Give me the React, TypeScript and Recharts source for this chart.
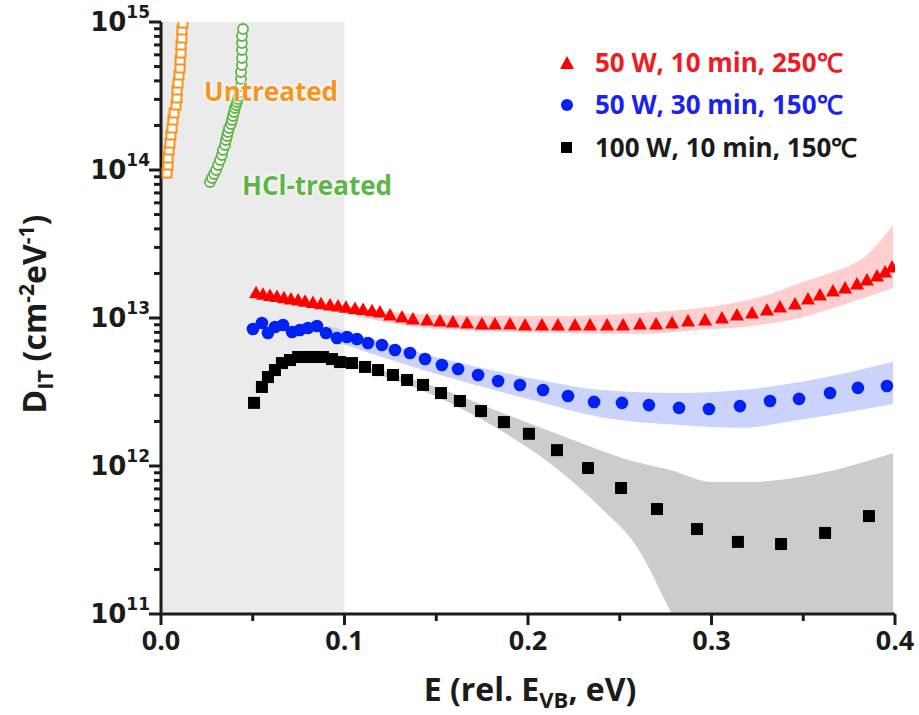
import React from 'react';
import { ComposedChart, Area, Scatter, XAxis, YAxis, ReferenceArea } from 'recharts';

// 50 W, 10 min, 250 C (red triangles)
const redE = [0.0518, 0.0556, 0.0594, 0.0632, 0.067, 0.0708, 0.0747, 0.0785, 0.0828, 0.0872, 0.0921, 0.0965, 0.1008, 0.1057, 0.1101, 0.115, 0.1193, 0.1248, 0.1313, 0.1373, 0.145, 0.152, 0.1591, 0.1668, 0.1749, 0.182, 0.1902, 0.1984, 0.2076, 0.2163, 0.2256, 0.2338, 0.2431, 0.2518, 0.261, 0.2698, 0.2785, 0.2872, 0.2965, 0.3057, 0.3139, 0.3221, 0.3302, 0.3373, 0.3455, 0.3526, 0.3591, 0.3662, 0.3728, 0.3793, 0.3847, 0.3902, 0.3946, 0.3984];
const redD = [1.48e13, 1.448e13, 1.421e13, 1.395e13, 1.369e13, 1.344e13, 1.321e13, 1.296e13, 1.273e13, 1.249e13, 1.226e13, 1.205e13, 1.183e13, 1.161e13, 1.14e13, 1.118e13, 1.098e13, 1.048e13, 1.016e13, 9.84e12, 9.69e12, 9.54e12, 9.4e12, 9.25e12, 9.11e12, 9.11e12, 9.11e12, 8.97e12, 8.97e12, 8.97e12, 8.97e12, 8.97e12, 8.97e12, 8.97e12, 9.11e12, 9.11e12, 9.25e12, 9.54e12, 9.69e12, 1.0e13, 1.048e13, 1.081e13, 1.133e13, 1.187e13, 1.243e13, 1.344e13, 1.43e13, 1.522e13, 1.595e13, 1.697e13, 1.806e13, 1.922e13, 2.046e13, 2.211e13];
const redBandE = [0.0757, 0.152, 0.2174, 0.261, 0.2937, 0.3117, 0.3302, 0.3482, 0.3662, 0.3847, 0.3989];
const redBandLo = [1.263e13, 8.43e12, 7.92e12, 7.8e12, 8.3e12, 8.56e12, 9.11e12, 1.0e13, 1.168e13, 1.387e13, 1.595e13];
const redBandHi = [1.387e13, 1.048e13, 1.032e13, 1.081e13, 1.168e13, 1.263e13, 1.43e13, 1.724e13, 2.046e13, 2.666e13, 4.25e13];

// 50 W, 30 min, 150 C (blue circles)
const blueE = [0.0501, 0.055, 0.0583, 0.0621, 0.0665, 0.0714, 0.0757, 0.0801, 0.085, 0.0899, 0.0959, 0.1014, 0.1068, 0.1128, 0.1204, 0.1275, 0.1357, 0.1439, 0.1531, 0.1619, 0.1728, 0.1837, 0.1956, 0.2082, 0.2218, 0.236, 0.2512, 0.2659, 0.2823, 0.2986, 0.3155, 0.3319, 0.3477, 0.3646, 0.3798, 0.3956];
const blueD = [8.43e12, 9.25e12, 7.92e12, 8.69e12, 8.97e12, 8.04e12, 8.3e12, 8.56e12, 8.83e12, 7.92e12, 7.33e12, 7.44e12, 7.21e12, 6.78e12, 6.57e12, 6.08e12, 5.8e12, 5.28e12, 4.81e12, 4.52e12, 4.12e12, 3.75e12, 3.53e12, 3.26e12, 2.97e12, 2.71e12, 2.67e12, 2.58e12, 2.47e12, 2.43e12, 2.54e12, 2.75e12, 2.84e12, 3.11e12, 3.37e12, 3.47e12];
const blueBandE = [0.0921, 0.152, 0.2065, 0.2392, 0.2828, 0.3155, 0.3482, 0.3989];
const blueBandLo = [7.1e12, 4.12e12, 2.71e12, 2.14e12, 1.89e12, 1.81e12, 2.05e12, 2.62e12];
const blueBandHi = [8.83e12, 5.37e12, 3.81e12, 3.26e12, 3.11e12, 3.26e12, 3.69e12, 5.04e12];

// 100 W, 10 min, 150 C (black squares)
const blackE = [0.0507, 0.055, 0.0583, 0.0621, 0.0659, 0.0703, 0.0747, 0.0796, 0.0839, 0.0883, 0.0932, 0.0975, 0.1041, 0.1112, 0.1183, 0.1264, 0.1341, 0.1428, 0.1526, 0.1629, 0.1744, 0.1869, 0.2005, 0.2158, 0.2327, 0.2507, 0.2703, 0.2921, 0.3144, 0.3379, 0.3619, 0.3858];
const blackD = [2.67e12, 3.42e12, 3.99e12, 4.45e12, 4.96e12, 5.2e12, 5.45e12, 5.45e12, 5.45e12, 5.45e12, 5.28e12, 5.04e12, 4.96e12, 4.67e12, 4.45e12, 4.12e12, 3.81e12, 3.53e12, 3.11e12, 2.75e12, 2.35e12, 1.98e12, 1.65e12, 1.28e12, 9.69e11, 7.1e11, 5.12e11, 3.75e11, 3.07e11, 2.97e11, 3.53e11, 4.59e11];
const blackBandE = [0.0921, 0.1482, 0.1847, 0.2213, 0.2392, 0.2594, 0.2774, 0.3008, 0.321, 0.3482, 0.3989];
const blackBandLo = [5.12e12, 3.02e12, 1.75e12, 8.43e11, 5.28e11, 2.84e11, 1.06e11, 2.97e10, 1e10, 1e10, 1e10];
const blackBandHi = [5.45e12, 3.47e12, 2.32e12, 1.55e12, 1.28e12, 1.06e12, 9.4e11, 7.8e11, 7.8e11, 8.43e11, 1.22e12];

// untreated (orange open squares)
const untreatedE = [0.0033, 0.0038, 0.0038, 0.0044, 0.0049, 0.0054, 0.006, 0.0065, 0.0071, 0.0082, 0.0087, 0.0087, 0.0093, 0.0098, 0.0104, 0.0104, 0.0109, 0.0109, 0.0114, 0.0114, 0.012];
const untreatedD = [9.54e13, 1.081e14, 1.205e14, 1.365e14, 1.522e14, 1.724e14, 1.922e14, 2.177e14, 2.428e14, 2.749e14, 3.066e14, 3.472e14, 3.871e14, 4.384e14, 4.888e14, 5.536e14, 6.173e14, 6.992e14, 7.796e14, 8.83e14, 9.84e14];

// HCl-treated (green open circles)
const hclE = [0.0267, 0.0278, 0.0289, 0.03, 0.0311, 0.0322, 0.0332, 0.0338, 0.0349, 0.0354, 0.036, 0.0365, 0.0371, 0.0381, 0.0387, 0.0392, 0.0398, 0.0403, 0.0409, 0.0414, 0.042, 0.0425, 0.0431, 0.0436, 0.0436, 0.0436, 0.0441, 0.0441, 0.0441, 0.0441, 0.0441, 0.0447];
const hclD = [8.3e13, 8.83e13, 9.4e13, 1.0e14, 1.081e14, 1.168e14, 1.263e14, 1.365e14, 1.475e14, 1.595e14, 1.697e14, 1.806e14, 1.922e14, 2.046e14, 2.177e14, 2.317e14, 2.466e14, 2.624e14, 2.749e14, 2.88e14, 3.018e14, 3.162e14, 3.365e14, 3.695e14, 4.12e14, 4.593e14, 5.123e14, 5.712e14, 6.47e14, 7.21e14, 8.04e14, 8.97e14];

const yMajor = [1e11, 1e12, 1e13, 1e14, 1e15];
const yMinorSteps = [2, 3, 4, 5, 6, 7, 8, 9];
const xTicks = [0, 0.05, 0.1, 0.15, 0.2, 0.25, 0.3, 0.35, 0.4];
const xMajor = [0, 0.1, 0.2, 0.3, 0.4];

const yTicks = [
  ...yMajor,
  ...yMajor.slice(0, 4).flatMap((d) => yMinorSteps.map((s) => d * s)),
].sort((a, b) => a - b);

const pts = (xs: number[], ys: number[]) => xs.map((e, i) => ({ e, d: ys[i] }));
const band = (xs: number[], lo: number[], hi: number[]) =>
  xs.map((e, i) => ({ e, range: [lo[i], hi[i]] }));

const INK = '#1b1b1b';
const SANS = '"Open Sans", "Liberation Sans", sans-serif';

const YTick = (props: any) => {
  const { x, y, payload } = props;
  const v = payload.value as number;
  const exp = Math.round(Math.log10(v));
  const major = Math.abs(v - Math.pow(10, exp)) < v * 1e-6;
  return (
    <g>
      <line x1={x} x2={x - (major ? 12 : 7)} y1={y} y2={y} stroke={INK} strokeWidth={3} />
      {major && (
        <text x={x - 11} y={y + 9} textAnchor="end" fill={INK} fontFamily='"DejaVu Sans", sans-serif' fontWeight={700} fontSize={26}>
          <tspan>10</tspan>
          <tspan dy={-13} fontSize={17}>{exp}</tspan>
        </text>
      )}
    </g>
  );
};

const XTick = (props: any) => {
  const { x, y, payload } = props;
  const v = payload.value as number;
  const major = xMajor.some((m) => Math.abs(m - v) < 1e-9);
  return (
    <g>
      <line x1={x} x2={x} y1={y} y2={y + (major ? 11 : 7)} stroke={INK} strokeWidth={3} />
      {major && (
        <text x={x} y={y + 36} textAnchor="middle" fill={INK} fontFamily={SANS} fontWeight={700} fontSize={27}>
          {v.toFixed(1)}
        </text>
      )}
    </g>
  );
};

const Triangle = (p: any) => (
  <polygon points={`${p.cx},${p.cy - 7} ${p.cx + 7},${p.cy + 5.5} ${p.cx - 7},${p.cy + 5.5}`} fill="#ff0000" />
);
const Dot = (p: any) => <circle cx={p.cx} cy={p.cy} r={6.3} fill="#0022f5" />;
const Square = (p: any) => <rect x={p.cx - 6} y={p.cy - 6} width={12} height={12} fill="#000" />;
const OpenSquare = (p: any) => (
  <rect x={p.cx - 4.5} y={p.cy - 4.5} width={9} height={9} fill="#fff" stroke="#f7941d" strokeWidth={2} />
);
const OpenCircle = (p: any) => (
  <circle cx={p.cx} cy={p.cy} r={5} fill="#fff" stroke="#5db546" strokeWidth={1.8} />
);

const XTitle = () => (
  <text x={530} y={701} textAnchor="middle" fill={INK} fontFamily={SANS} fontWeight={700} fontSize={32}>
    E (rel. E<tspan dy={7} fontSize={22}>VB</tspan>
    <tspan dy={-7}>, eV)</tspan>
  </text>
);

const YTitle = () => (
  <text x={0} y={0} transform="translate(46,314) rotate(-90)" textAnchor="middle" fill={INK} fontFamily={SANS} fontWeight={700} fontSize={32}>
    D<tspan dy={7} fontSize={22}>IT</tspan>
    <tspan dy={-7}> (cm</tspan>
    <tspan dy={-12} fontSize={21}>-2</tspan>
    <tspan dy={12}>eV</tspan>
    <tspan dy={-12} fontSize={21}>-1</tspan>
    <tspan dy={12}>)</tspan>
  </text>
);

const legendRows = [
  { label: '50 W, 10 min, 250℃', color: '#ed1c24', icon: 'tri', top: 45 },
  { label: '50 W, 30 min, 150℃', color: '#1a22ee', icon: 'dot', top: 87 },
  { label: '100 W, 10 min, 150℃', color: '#1b1b1b', icon: 'sq', top: 130 },
];

const LegendIcon = ({ kind }: { kind: string }) => (
  <svg width={16} height={16} style={{ position: 'absolute', left: -36, top: 10 }}>
    {kind === 'tri' && <polygon points="8,1 15,14 1,14" fill="#ff0000" />}
    {kind === 'dot' && <circle cx={8} cy={8} r={6} fill="#0022f5" />}
    {kind === 'sq' && <rect x={2} y={2} width={11} height={11} fill="#000" />}
  </svg>
);

const glow = '0 0 2px #fff, 0 0 3px #fff, 0 0 4px #fff';

export default function App() {
  return (
    <div style={{ position: 'absolute', left: 0, top: 0, width: 919, height: 715, background: '#fff' }}>
      <ComposedChart width={919} height={715} margin={{ top: 22, right: 24, bottom: 0, left: 0 }}>
        <XAxis
          dataKey="e"
          type="number"
          domain={[0, 0.4]}
          ticks={xTicks}
          interval={0}
          height={101}
          tickSize={0}
          tickMargin={0}
          tickLine={false}
          tick={<XTick />}
          axisLine={{ stroke: INK, strokeWidth: 3 }}
          allowDataOverflow
          label={{ content: <XTitle /> }}
        />
        <XAxis xAxisId="top" orientation="top" type="number" domain={[0, 0.4]} height={0} tick={false} tickLine={false} axisLine={{ stroke: INK, strokeWidth: 3 }} />
        <YAxis
          dataKey="d"
          scale="log"
          type="number"
          domain={[1e11, 1e15]}
          ticks={yTicks}
          interval={0}
          width={161}
          tickSize={0}
          tickMargin={0}
          tickLine={false}
          tick={<YTick />}
          axisLine={{ stroke: INK, strokeWidth: 3 }}
          allowDataOverflow
          label={{ content: <YTitle /> }}
        />
        <YAxis yAxisId="right" orientation="right" scale="log" type="number" domain={[1e11, 1e15]} width={0} tick={false} tickLine={false} axisLine={{ stroke: INK, strokeWidth: 3 }} />

        <ReferenceArea x1={0} x2={0.1} fill="#ebebeb" fillOpacity={1} stroke="none" ifOverflow="hidden" />

        <Area data={band(blackBandE, blackBandLo, blackBandHi)} dataKey="range" type="monotone" stroke="none" fill="#cccccc" fillOpacity={1} isAnimationActive={false} />
        <Area data={band(blueBandE, blueBandLo, blueBandHi)} dataKey="range" type="monotone" stroke="none" fill="#cbd3fc" fillOpacity={1} isAnimationActive={false} />
        <Area data={band(redBandE, redBandLo, redBandHi)} dataKey="range" type="monotone" stroke="none" fill="#ffcfd0" fillOpacity={1} isAnimationActive={false} />

        <Scatter data={pts(untreatedE, untreatedD)} shape={<OpenSquare />} isAnimationActive={false} />
        <Scatter data={pts(hclE, hclD)} shape={<OpenCircle />} isAnimationActive={false} />
        <Scatter data={pts(blackE, blackD)} shape={<Square />} isAnimationActive={false} />
        <Scatter data={pts(blueE, blueD)} shape={<Dot />} isAnimationActive={false} />
        <Scatter data={pts(redE, redD)} shape={<Triangle />} isAnimationActive={false} />
      </ComposedChart>

      {legendRows.map((r) => (
        <div key={r.label} style={{ position: 'absolute', left: 595, top: r.top, color: r.color, fontFamily: SANS, fontWeight: 700, fontSize: 26, lineHeight: '34px', whiteSpace: 'nowrap' }}>
          <LegendIcon kind={r.icon} />
          {r.label}
        </div>
      ))}

      <div style={{ position: 'absolute', left: 204, top: 74, color: '#f7941d', fontFamily: SANS, fontWeight: 700, fontSize: 26, lineHeight: '34px', textShadow: glow }}>
        Untreated
      </div>
      <div style={{ position: 'absolute', left: 242, top: 168, color: '#5db546', fontFamily: SANS, fontWeight: 700, fontSize: 26, lineHeight: '34px', textShadow: glow }}>
        HCl-treated
      </div>
    </div>
  );
}
